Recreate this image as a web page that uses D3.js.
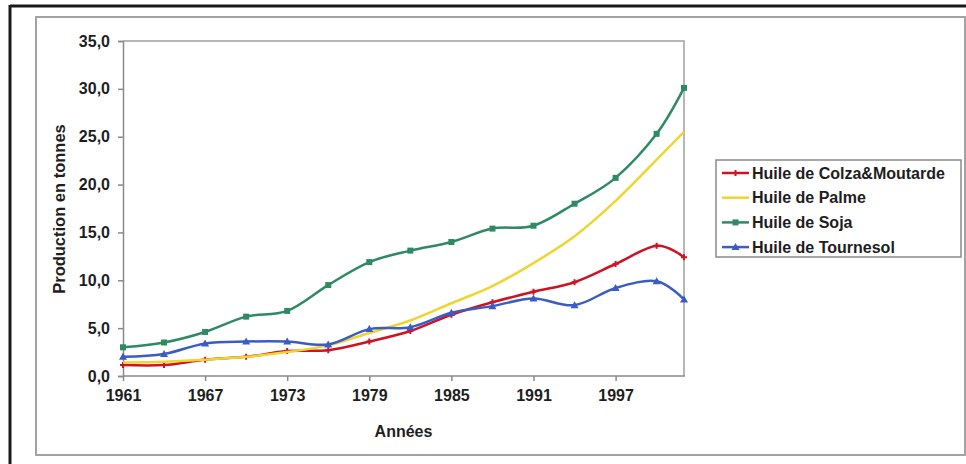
<!DOCTYPE html>
<html>
<head>
<meta charset="utf-8">
<script src="https://cdn.jsdelivr.net/npm/d3@7"></script>
<style>
  html, body { margin: 0; padding: 0; background: #fff; }
  svg { display: block; }
  text { font-family: "Liberation Sans", Arial, sans-serif; font-weight: bold; fill: #1e1e1e; }
</style>
</head>
<body>
<svg id="chart" width="966" height="464"></svg>
<script>
// Production mondiale d'huiles végétales (1961-2002)
const years = [1961, 1964, 1967, 1970, 1973, 1976, 1979, 1982, 1985, 1988, 1991, 1994, 1997, 2000, 2002];
const colza = [1.15, 1.15, 1.7, 2.0, 2.6, 2.7, 3.6, 4.7, 6.4, 7.7, 8.8, 9.8, 11.7, 13.6, 12.4];
const palme = [1.4, 1.5, 1.7, 2.0, 2.5, 3.2, 4.5, 5.8, 7.6, 9.4, 11.8, 14.6, 18.3, 22.6, 25.5];
const soja = [3.0, 3.5, 4.6, 6.2, 6.8, 9.5, 11.9, 13.1, 14.0, 15.4, 15.7, 18.0, 20.7, 25.3, 30.1];
const tournesol = [2.0, 2.3, 3.4, 3.6, 3.6, 3.3, 4.9, 5.1, 6.6, 7.3, 8.1, 7.4, 9.2, 9.9, 8.0];
const seriesNames = ["Huile de Colza&Moutarde", "Huile de Palme", "Huile de Soja", "Huile de Tournesol"];
const xTicks = [1961, 1967, 1973, 1979, 1985, 1991, 1997];
const yTicks = [0, 5, 10, 15, 20, 25, 30, 35];

const series = [
  { name: seriesNames[0], values: colza, color: "#cc1424", marker: "plus" },
  { name: seriesNames[1], values: palme, color: "#eed530", marker: "none" },
  { name: seriesNames[2], values: soja, color: "#2e8a64", marker: "square" },
  { name: seriesNames[3], values: tournesol, color: "#3a5cc4", marker: "triangle" }
];

const svg = d3.select("#chart");

// outer frames
svg.append("line").attr("x1", 10).attr("y1", 6).attr("x2", 966).attr("y2", 6)
  .attr("stroke", "#1a1a1a").attr("stroke-width", 3);
svg.append("line").attr("x1", 10).attr("y1", 5).attr("x2", 10).attr("y2", 464)
  .attr("stroke", "#1a1a1a").attr("stroke-width", 3);
svg.append("rect").attr("x", 36).attr("y", 17).attr("width", 929).attr("height", 438)
  .attr("fill", "#fff").attr("stroke", "#a3a3a3").attr("stroke-width", 2);

const plot = { left: 123, right: 684, top: 41, bottom: 376 };
const x = d3.scaleLinear().domain([1961, 2002]).range([plot.left, plot.right]);
const y = d3.scaleLinear().domain([0, 35]).range([plot.bottom, plot.top]);

// plot area border (top and right)
svg.append("path")
  .attr("d", `M${plot.left},${plot.top}H${plot.right}V${plot.bottom}`)
  .attr("fill", "none").attr("stroke", "#a0a0a0").attr("stroke-width", 1.5);

const fmt = v => d3.format(".1f")(v).replace(".", ",");

const yAxis = svg.append("g").attr("transform", `translate(${plot.left},0)`)
  .call(d3.axisLeft(y).tickValues(yTicks).tickFormat(fmt).tickSize(5).tickPadding(8));
const xAxis = svg.append("g").attr("transform", `translate(0,${plot.bottom})`)
  .call(d3.axisBottom(x).tickValues(xTicks).tickFormat(d3.format("d")).tickSize(5).tickPadding(9)
    .tickSizeOuter(0));
[yAxis, xAxis].forEach(g => {
  g.select(".domain").attr("stroke", "#8a8a8a").attr("stroke-width", 1.5);
  g.selectAll(".tick line").attr("stroke", "#8a8a8a").attr("stroke-width", 1.5);
  g.selectAll("text").attr("font-size", 16).attr("fill", "#1e1e1e")
    .attr("font-family", "'Liberation Sans', Arial, sans-serif").attr("font-weight", "bold");
});
xAxis.select(".domain").attr("d", `M${plot.left},0H${plot.right + 1}`);

// axis titles
svg.append("text").attr("x", plot.left + (plot.right - plot.left) / 2).attr("y", 437)
  .attr("text-anchor", "middle").attr("font-size", 16).text("Années");
svg.append("text").attr("transform", "translate(65,209) rotate(-90)")
  .attr("text-anchor", "middle").attr("font-size", 16.5).text("Production en tonnes");

// series lines
const line = d3.line()
  .x((d, i) => x(years[i]))
  .y(d => y(d))
  .curve(d3.curveCardinal.tension(0));

function drawMarker(g, type, cx, cy, color) {
  if (type === "square") {
    g.append("rect").attr("x", cx - 3).attr("y", cy - 3).attr("width", 6).attr("height", 6).attr("fill", color);
  } else if (type === "triangle") {
    g.append("path").attr("d", `M${cx},${cy - 4}L${cx + 4},${cy + 3}L${cx - 4},${cy + 3}Z`).attr("fill", color);
  } else if (type === "plus") {
    g.append("path").attr("d", `M${cx - 3},${cy}H${cx + 3}M${cx},${cy - 3}V${cy + 3}`)
      .attr("stroke", color).attr("stroke-width", 2);
  }
}

const seriesG = svg.append("g");
series.forEach(s => {
  const g = seriesG.append("g");
  g.append("path").datum(s.values).attr("d", line)
    .attr("fill", "none").attr("stroke", s.color).attr("stroke-width", 2.5)
    .attr("stroke-linejoin", "round");
  s.values.forEach((v, i) => drawMarker(g, s.marker, x(years[i]), y(v), s.color));
});

// legend
const legend = svg.append("g");
legend.append("rect").attr("x", 716).attr("y", 160).attr("width", 245).attr("height", 97)
  .attr("fill", "#fff").attr("stroke", "#8a8a8a").attr("stroke-width", 1.5);
series.forEach((s, i) => {
  const cy = 173 + i * 24.7;
  legend.append("line").attr("x1", 722).attr("x2", 749).attr("y1", cy).attr("y2", cy)
    .attr("stroke", s.color).attr("stroke-width", 2.5);
  drawMarker(legend, s.marker, 735.5, cy, s.color);
  legend.append("text").attr("x", 752).attr("y", cy + 5.5).attr("font-size", 16).text(s.name);
});
</script>
</body>
</html>
